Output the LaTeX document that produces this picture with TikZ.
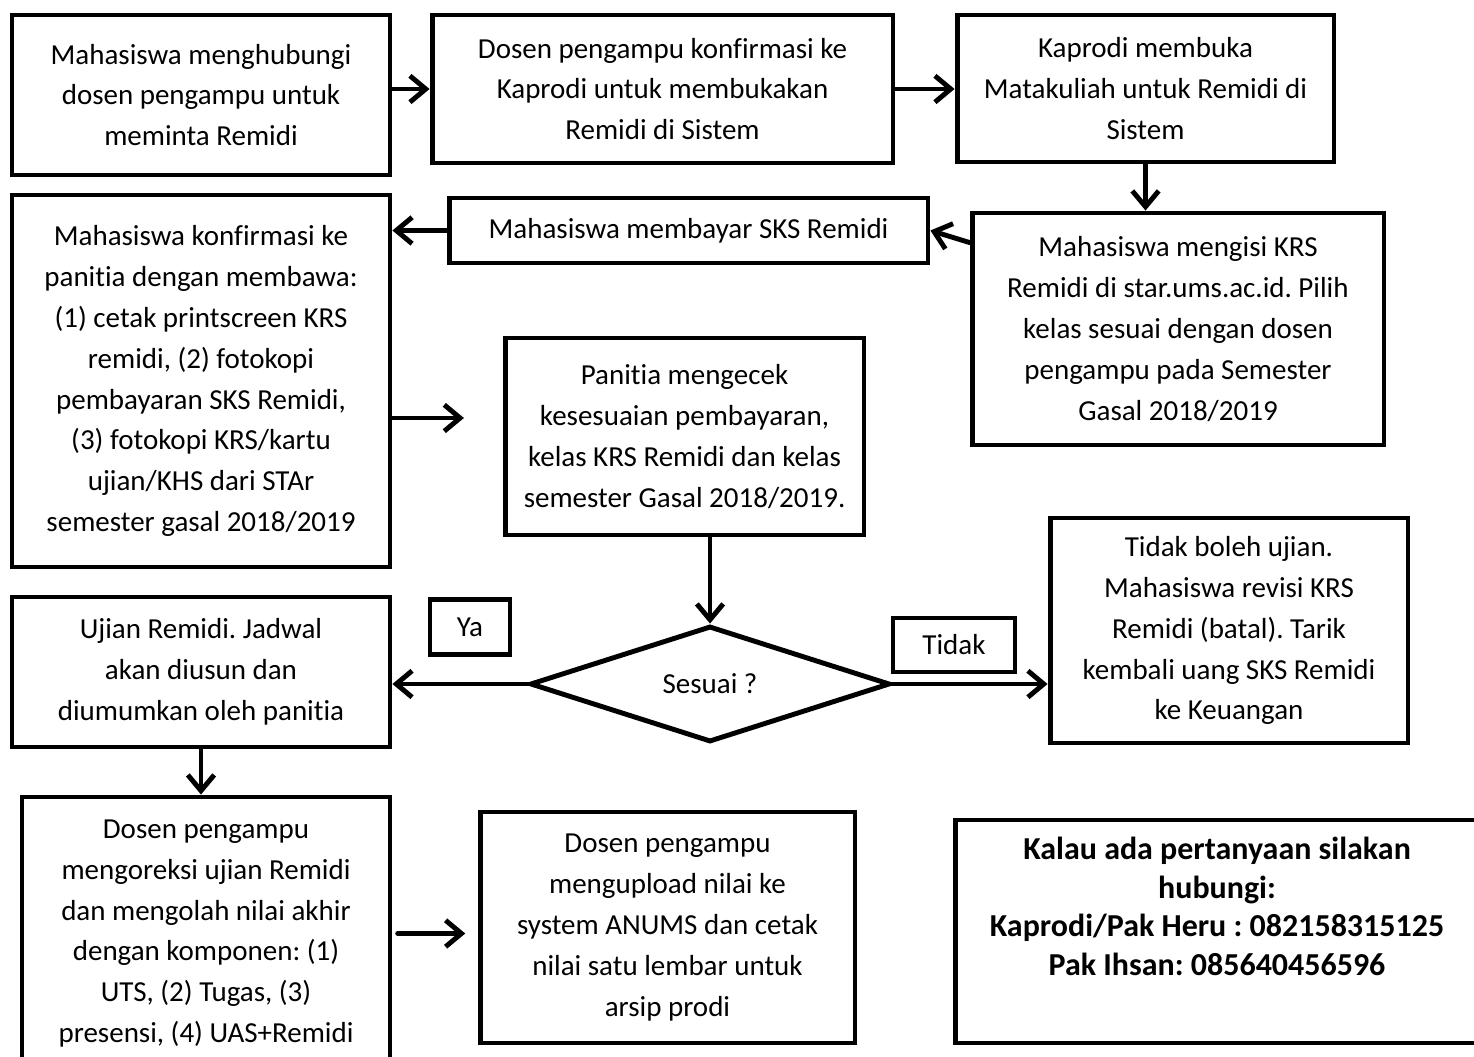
\documentclass[tikz,border=0pt]{standalone}
\usepackage{fontspec}
\setmainfont{Carlito}[Ligatures={NoCommon}]
\usetikzlibrary{positioning, arrows.meta, shapes}
\usetikzlibrary{shapes.geometric}
\frenchspacing

\begin{document}
\begin{tikzpicture}[x=0.02cm, y=-0.02cm,
    box/.style={draw, line width=2.8pt, align=center, inner sep=2pt, font=\fontsize{16.5}{23.3}\selectfont},
    arr/.style={-{Straight Barb[length=9pt,width=15pt]}, line width=2.8pt, line cap=round, line join=round}]
    \useasboundingbox (0,0) rectangle (1474,1057);
    \clip (0,0) rectangle (1474,1057);

    % Top row
    \node[box, minimum width=7.56cm, minimum height=3.2cm] (hubungi) at (201,95) {Mahasiswa menghubungi\\dosen pengampu untuk\\meminta Remidi};
    \node[box, minimum width=9.22cm, minimum height=2.96cm] (konfirm) at (662.5,89) {Dosen pengampu konfirmasi ke\\Kaprodi untuk membukakan\\Remidi di Sistem};
    \node[box, minimum width=7.54cm, minimum height=2.94cm] (buka) at (1145.5,88.5) {Kaprodi membuka\\Matakuliah untuk Remidi di\\Sistem};

    % Second row
    \node[box, minimum width=7.56cm, minimum height=7.44cm] (panitia) at (201,381) {Mahasiswa konfirmasi ke\\panitia dengan membawa:\\(1) cetak printscreen KRS\\remidi, (2) fotokopi\\pembayaran SKS Remidi,\\(3) fotokopi KRS/kartu\\ujian/KHS dari STAr\\semester gasal 2018/2019};
    \node[box, minimum width=9.58cm, minimum height=1.3cm] (bayar) at (688.5,230.5) {Mahasiswa membayar SKS Remidi};
    \node[box, minimum width=8.24cm, minimum height=4.64cm] (krs) at (1178,329) {Mahasiswa mengisi KRS\\Remidi di star.ums.ac.id. Pilih\\kelas sesuai dengan dosen\\pengampu pada Semester\\Gasal 2018/2019};
    \node[box, minimum width=7.18cm, minimum height=3.94cm] (cek) at (684.5,436.5) {Panitia mengecek\\kesesuaian pembayaran,\\kelas KRS Remidi dan kelas\\semester Gasal 2018/2019.};

    % Decision
    \node[box, diamond, inner sep=0pt, minimum width=7.2cm, minimum height=2.32cm] (sesuai) at (710,684) {Sesuai ?};
    \node[box, minimum width=1.6cm, minimum height=1.1cm] (ya) at (470,627) {Ya};
    \node[box, minimum width=2.44cm, minimum height=1.08cm] (tidak) at (954,645) {Tidak};
    \node[box, minimum width=7.56cm, minimum height=3cm] (ujian) at (201,672) {Ujian Remidi. Jadwal\\akan diusun dan\\diumumkan oleh panitia};
    \node[box, minimum width=7.16cm, minimum height=4.5cm] (batal) at (1229,630.5) {Tidak boleh ujian.\\Mahasiswa revisi KRS\\Remidi (batal). Tarik\\kembali uang SKS Remidi\\ke Keuangan};

    % Bottom row
    \node[box, minimum width=7.36cm, minimum height=5.46cm] (koreksi) at (206,933.5) {Dosen pengampu\\mengoreksi ujian Remidi\\dan mengolah nilai akhir\\dengan komponen: (1)\\UTS, (2) Tugas, (3)\\presensi, (4) UAS+Remidi};
    \node[box, minimum width=7.5cm, minimum height=4.62cm] (upload) at (667.5,927.5) {Dosen pengampu\\mengupload nilai ke\\system ANUMS dan cetak\\nilai satu lembar untuk\\arsip prodi};
    \node[box, font=\bfseries\fontsize{18.2}{22}\selectfont, minimum width=10.48cm, minimum height=4.46cm] (kontak) at (1217,931.5) {Kalau ada pertanyaan silakan\\hubungi:\\Kaprodi/Pak Heru : 082158315125\\Pak Ihsan: 085640456596\\\strut};

    % Connectors
    \draw[arr] (hubungi.east |- konfirm.west) -- (konfirm.west);
    \draw[arr] (konfirm.east) -- (konfirm.east -| buka.west);
    \draw[arr] (buka.south) -- (buka.south |- krs.north);
    \draw[arr] (krs.north west) ++(0,32) -- (bayar.east);
    \draw[arr] (bayar.west) -- (bayar.west -| panitia.east);
    \draw[arr, shorten >=22pt] (panitia.east) ++(0,37) coordinate (pc) -- (pc -| cek.west);
    \draw[arr] (sesuai.north |- cek.south) -- (sesuai.north);
    \draw[arr] (sesuai.west) -- (sesuai.west -| ujian.east);
    \draw[arr] (sesuai.east) -- (sesuai.east -| batal.west);
    \draw[arr] (ujian.south) -- (ujian.south |- koreksi.north);
    \draw[arr, shorten <=3pt, shorten >=7pt] (koreksi.east) -- (koreksi.east -| upload.west);
\end{tikzpicture}
\end{document}
